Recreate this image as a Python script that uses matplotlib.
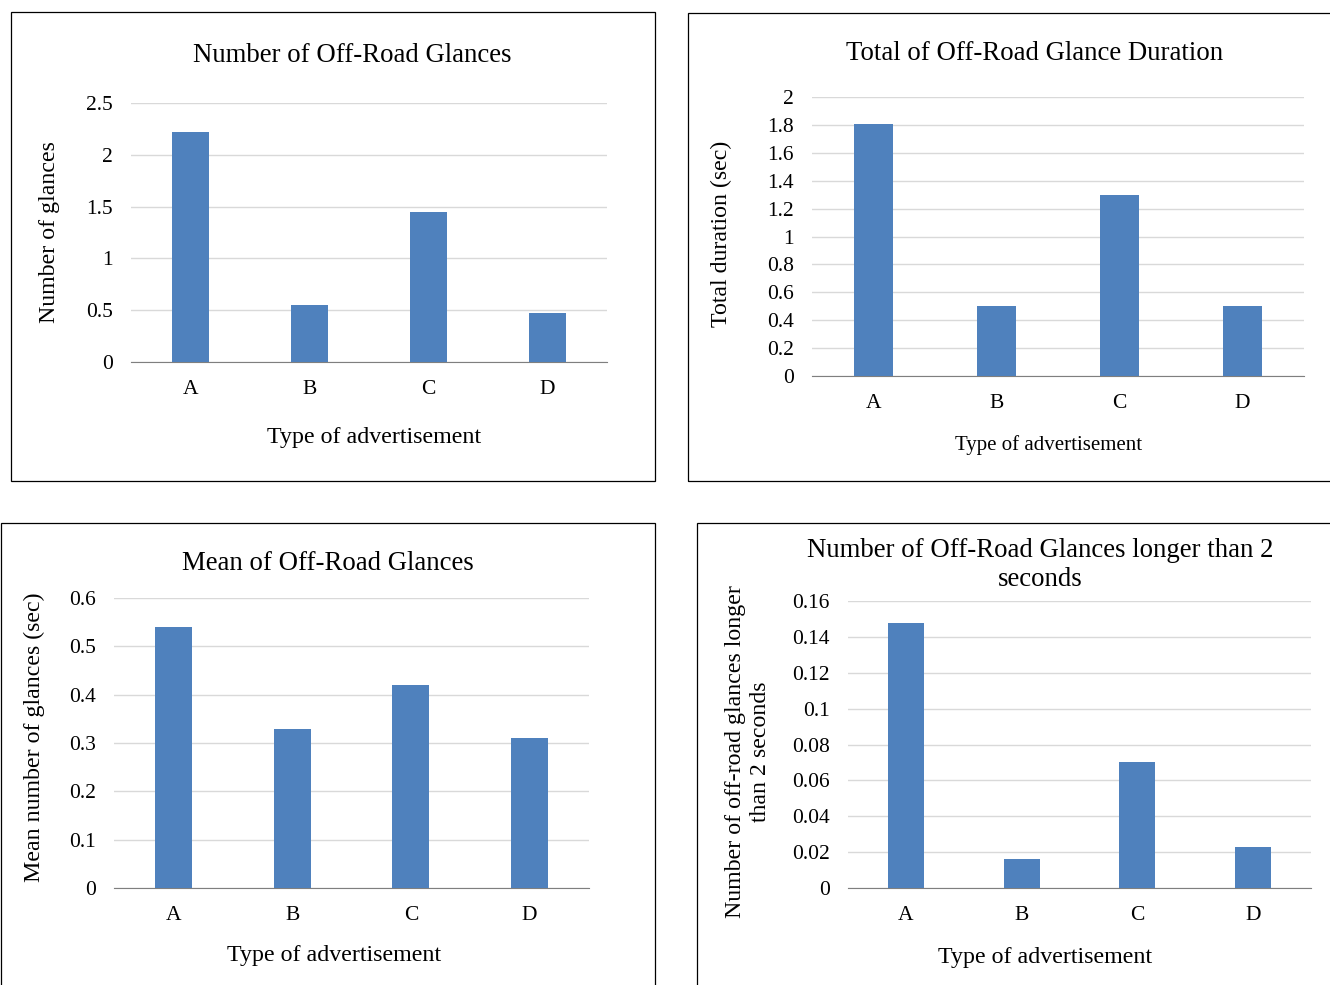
import numpy as np
import matplotlib.pyplot as plt
from matplotlib.patches import Rectangle

plt.rcParams['font.family'] = ['Liberation Serif', 'DejaVu Serif']

cats = ['A', 'B', 'C', 'D']
glances = [2.22, 0.55, 1.45, 0.47]
duration = [1.81, 0.50, 1.30, 0.50]
mean_glances = [0.54, 0.33, 0.42, 0.31]
long_glances = [0.148, 0.016, 0.070, 0.023]

W, H = 1330, 985
fig = plt.figure(figsize=(W / 100, H / 100), dpi=100)

blue = '#4f81bd'


def px_axes(x0, y0, x1, y1):
    # pixel coords (top-left origin) -> figure axes
    return fig.add_axes([x0 / W, 1 - y1 / H, (x1 - x0) / W, (y1 - y0) / H])


def frame(x0, y0, x1, y1):
    fig.patches.append(Rectangle((x0 / W, 1 - y1 / H), (x1 - x0) / W, (y1 - y0) / H,
                                 transform=fig.transFigure, fill=False,
                                 edgecolor='#000000', lw=0.9))


panels = [
    dict(box=(11, 12, 655, 481), ax=(131, 103, 607, 362), vals=glances, top=2.5, step=0.5,
         title='Number of Off-Road Glances', ylabel='Number of glances',
         title_xy=(352, 56), xlabel_xy=(374, 437), ylabel_xy=(50, 232), xl_size=17.3),
    dict(box=(688, 13, 1340, 481), ax=(812, 97, 1304, 376), vals=duration, top=2.0, step=0.2,
         title='Total of Off-Road Glance Duration', ylabel='Total duration (sec)',
         title_xy=(1035, 53), xlabel_xy=(1049, 445), ylabel_xy=(721, 234), xl_size=15),
    dict(box=(1, 523, 655, 995), ax=(114, 598, 589, 888), vals=mean_glances, top=0.6, step=0.1,
         title='Mean of Off-Road Glances', ylabel='Mean number of glances (sec)',
         title_xy=(328, 563), xlabel_xy=(334, 955), ylabel_xy=(34, 737), xl_size=17.3),
    dict(box=(697, 523, 1340, 995), ax=(848, 601, 1311, 888), vals=long_glances, top=0.16, step=0.02,
         title='Number of Off-Road Glances longer than 2\nseconds',
         ylabel='Number of off-road glances longer\nthan 2 seconds',
         title_xy=(1040, 565), xlabel_xy=(1045, 957), ylabel_xy=(748, 752), xl_size=17.3),
]

for p in panels:
    frame(*p['box'])
    ax = px_axes(*p['ax'])
    x = np.arange(len(cats))
    ax.bar(x, p['vals'], width=0.31, color=blue, zorder=3)
    ax.set_xlim(-0.5, len(cats) - 0.5)
    ax.set_ylim(0, p['top'])
    ticks = np.round(np.arange(0, p['top'] + p['step'] / 2, p['step']), 4)
    ax.set_yticks(ticks)
    ax.set_yticklabels(['{:g}'.format(t) for t in ticks])
    ax.set_xticks(x)
    ax.set_xticklabels(cats)
    ax.grid(axis='y', color='#d9d9d9', lw=1.0, zorder=0)
    for s in ['top', 'right', 'left']:
        ax.spines[s].set_visible(False)
    ax.spines['bottom'].set_color('#7f7f7f')
    ax.tick_params(length=0, labelsize=15.5)
    ax.tick_params(axis='x', pad=13)
    ax.tick_params(axis='y', pad=13)
    tx, ty = p['title_xy']
    fig.text(tx / W, 1 - ty / H, p['title'],
             ha='center', va='center', fontsize=19.3, linespacing=1.22)
    lx, ly = p['xlabel_xy']
    fig.text(lx / W, 1 - ly / H, 'Type of advertisement',
             ha='center', va='center', fontsize=p['xl_size'])
    yx, yy = p['ylabel_xy']
    fig.text(yx / W, 1 - yy / H, p['ylabel'],
             ha='center', va='center', rotation=90, fontsize=17.2, linespacing=1.3)

fig.savefig('out.png', dpi=100)
